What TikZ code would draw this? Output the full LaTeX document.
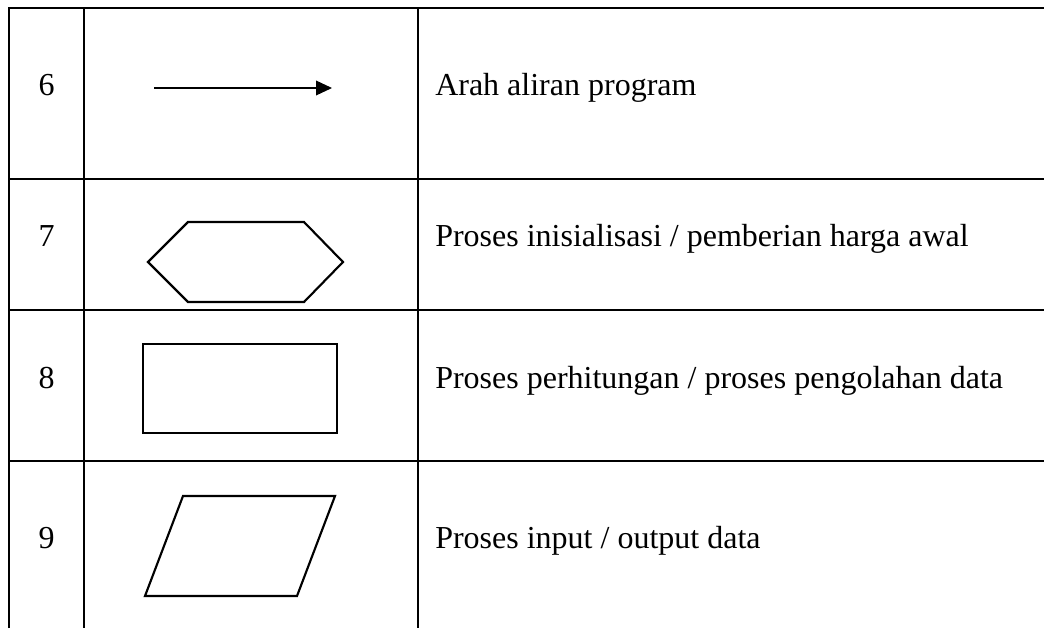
\documentclass[tikz,border=0pt]{standalone}
\usepackage{fontspec}
\setmainfont{Liberation Serif}
\usetikzlibrary{arrows.meta}
\begin{document}
\begin{tikzpicture}[x=0.75pt,y=-0.75pt,
  grid/.style={line width=1.6pt,black},
  shapeline/.style={line width=1.6pt,black,line join=miter},
  flowarrow/.style={line width=1.1pt,-{Triangle[length=12pt,width=11pt]}},
  num/.style={font=\fontsize{24}{28}\selectfont,inner sep=0pt,anchor=base},
  desc/.style={font=\fontsize{24}{28}\selectfont,inner sep=0pt,anchor=base west}]
\useasboundingbox (0,0) rectangle (1044,628);
% table lines
\draw[grid] (9,628) -- (9,8) -- (1044,8);
\draw[grid] (84,8) -- (84,628);
\draw[grid] (418,8) -- (418,628);
\draw[grid] (9,179) -- (1044,179);
\draw[grid] (9,310) -- (1044,310);
\draw[grid] (9,461) -- (1044,461);
% numbers
\node[num] (n6) at (46.5,95) {6};
\node[num] (n7) at (46.5,246) {7};
\node[num] (n8) at (46.5,388) {8};
\node[num] (n9) at (46.5,548) {9};
% descriptions
\node[desc] (d6) at (435,95) {Arah aliran program};
\node[desc] (d7) at (435,246) {Proses inisialisasi / pemberian harga awal};
\node[desc] (d8) at (435,388) {Proses perhitungan / proses pengolahan data};
\node[desc] (d9) at (435,548) {Proses input / output data};
% symbols
\coordinate (a1) at (154,88);
\coordinate (a2) at (332,88);
\draw[flowarrow] (a1) -- (a2);
\draw[shapeline] (148,262) -- (188,222) -- (304,222) -- (343,262) -- (304,302) -- (188,302) -- cycle;
\node[draw,shapeline,minimum width=145.5pt,minimum height=66.75pt,inner sep=0pt,outer sep=0pt] (r8) at (240,388.5) {};
\draw[shapeline] (183,496) -- (335,496) -- (297,596) -- (145,596) -- cycle;
\end{tikzpicture}
\end{document}
